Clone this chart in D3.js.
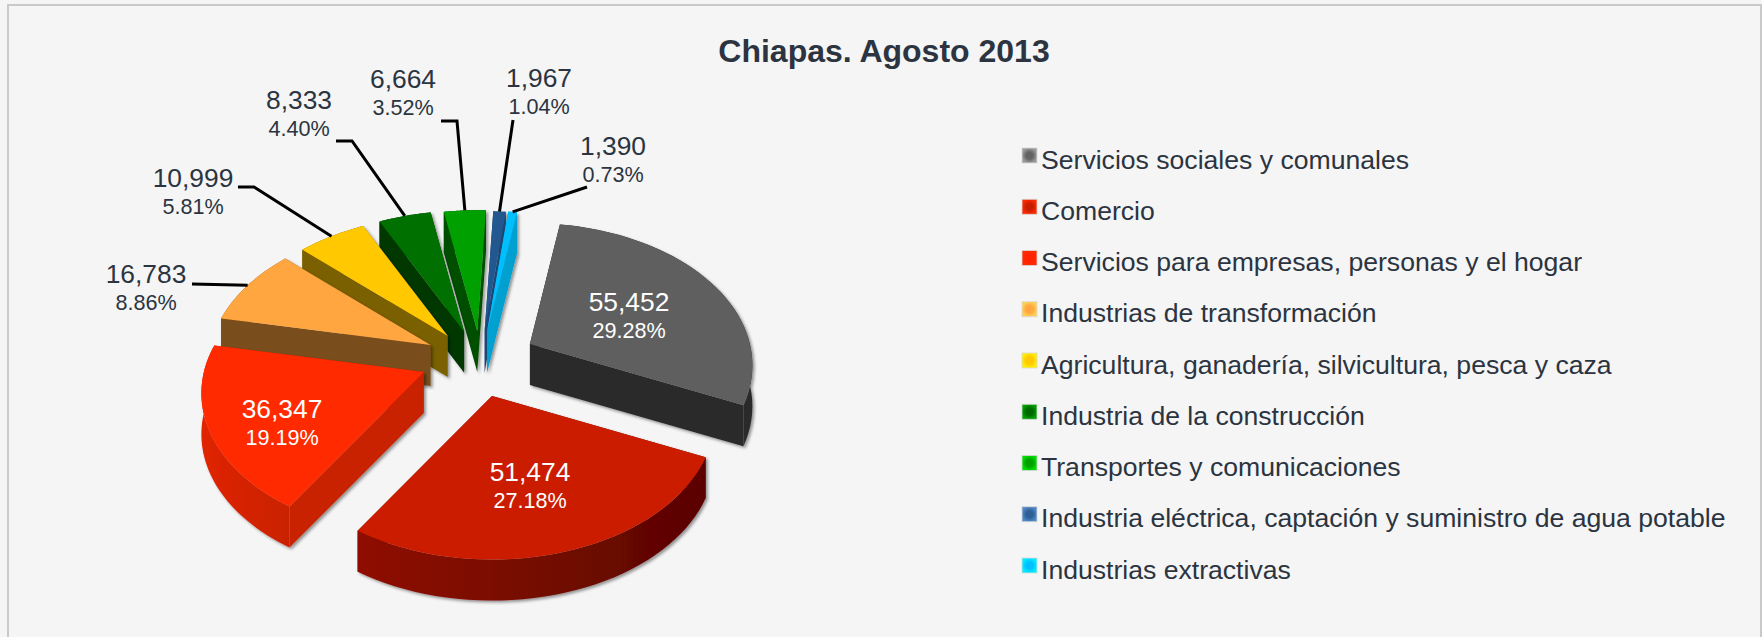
<!DOCTYPE html>
<html>
<head>
<meta charset="utf-8">
<script src="https://cdn.jsdelivr.net/npm/d3@7"></script>
<style>
  html, body { margin: 0; padding: 0; background: #f5f5f5; overflow: hidden; }
  text { font-family: "Liberation Sans", Arial, sans-serif; fill: #2b3440; }
</style>
</head>
<body>
<div id="grafico"></div>
<script>
const titulo = 'Chiapas. Agosto 2013'

const sectores = [
  'Servicios sociales y comunales',
  'Comercio',
  'Servicios para empresas, personas y el hogar',
  'Industrias de transformación',
  'Agricultura, ganadería, silvicultura, pesca y caza',
  'Industria de la construcción',
  'Transportes y comunicaciones',
  'Industria eléctrica, captación y suministro de agua potable',
  'Industrias extractivas'
]
const empleos = [55452, 51474, 36347, 16783, 10999, 8333, 6664, 1967, 1390]

const colorCara = ['#5e5e5e', '#cc1f00', '#ff2a00', '#ffa640', '#ffc800', '#007000', '#00a000', '#24598f', '#00bfff']
const colorPared = ['#292929', '#6e0800', '#c92000', '#7a4e1a', '#7a6000', '#003800', '#005000', '#1a4675', '#00a0d0']
const colorBorde = ['#2a2a2a', '#8f1000', '#e02500', '#7a4e1a', '#7a6000', '#003800', '#005000', '#1a4675', '#00a0d0']
const colorBordeFin = ['#2a2a2a', '#5a0400', '#c92000', '#7a4e1a', '#7a6000', '#003800', '#005000', '#1a4675', '#00a0d0']
const leyendaCentro = ['#636363', '#c81e00', '#ff2200', '#ffa640', '#ffc800', '#006a00', '#00a000', '#2f5f95', '#00c0ff']
const leyendaBorde = ['#9a9a9a', '#ff2a00', '#ff2a00', '#ffd050', '#ffee00', '#00a000', '#00dd00', '#4f88c8', '#00eeff']

// donde va cada etiqueta: [x, linea base] y el codo de la guia
const etiquetas = [
  { x: 629, y: 311, claro: true },
  { x: 530, y: 481, claro: true },
  { x: 282, y: 418, claro: true },
  { x: 146, y: 283, guia: [[192, 284]] },
  { x: 193, y: 187, guia: [[238, 187], [254, 187]] },
  { x: 299, y: 109, guia: [[336, 141], [352, 141]] },
  { x: 403, y: 88, guia: [[441, 121], [457, 121]] },
  { x: 539, y: 87, guia: [[513, 120]] },
  { x: 613, y: 155, guia: [[587, 187]] }
]

// correccion fina de la separacion de cada rebanada
const ajuste = [[1, -2.4], [-2.6, 1], [-1, -4], [4, -2], [4, 1], [4, 1.5], [3, 2.5], [2, 3.5], [1.3, 3]]

const width = 1762
const height = 637
const total = d3.sum(empleos)

// proyeccion del disco con un poco de perspectiva
const radioX = 220
const radioY = 139
const persp = 0.15
const grosor = 41
const centro = { x: 478, y: 362.5 }
const separa = { x: 57.8, y: 34 }
const inicio = 9 * Math.PI / 180

const proyecta = (ang, r) => {
  const u = Math.sin(ang) * r
  const v = -Math.cos(ang) * r
  const p = 1 / (1 - persp * v)
  return [radioX * u * p, radioY * v * p]
}

const svg = d3.select('#grafico').append('svg')
              .attr('width', width)
              .attr('height', height)
              .style('display', 'block')

const defs = svg.append('defs')
const sombra = defs.append('filter')
                   .attr('id', 'sombra')
                   .attr('x', '-10%').attr('y', '-10%')
                   .attr('width', '125%').attr('height', '125%')
sombra.append('feDropShadow')
      .attr('dx', 2).attr('dy', 2)
      .attr('stdDeviation', 1.6)
      .attr('flood-color', '#000')
      .attr('flood-opacity', 0.4)

// marco
svg.append('path')
   .attr('d', `M8 ${height} V5 H1761 V${height}`)
   .attr('fill', 'none')
   .attr('stroke', '#c9c9c9')
   .attr('stroke-width', 2)

svg.append('text')
   .attr('x', 884)
   .attr('y', 62)
   .attr('text-anchor', 'middle')
   .attr('font-weight', 'bold')
   .attr('font-size', 32)
   .text(titulo)

const pie = d3.pie()
              .sort(null)
              .startAngle(inicio)
              .endAngle(inicio + 2 * Math.PI)
const linea = d3.line()

const rebanadas = pie(empleos).map(d => {
  const medio = (d.startAngle + d.endAngle) / 2
  const puntos = d3.range(0, 41).map(i => d.startAngle + (d.endAngle - d.startAngle) * i / 40)
  return {
    ...d,
    medio,
    puntos,
    dx: centro.x + separa.x * Math.sin(medio) + ajuste[d.index][0],
    dy: centro.y - separa.y * Math.cos(medio) + ajuste[d.index][1],
    fondo: -Math.cos(medio)
  }
})

// gradientes del borde curvo
rebanadas.forEach(d => {
  const g = defs.append('linearGradient')
                .attr('id', `borde${d.index}`)
                .attr('x1', 0).attr('x2', 1).attr('y1', 0).attr('y2', 0)
  g.append('stop').attr('offset', '0%').attr('stop-color', colorBorde[d.index])
  g.append('stop').attr('offset', '100%').attr('stop-color', colorBordeFin[d.index])
})

const orden = rebanadas.slice().sort((a, b) => d3.ascending(a.fondo, b.fondo))

const grupos = svg.selectAll('g.rebanada')
                  .data(orden)
                  .enter()
                  .append('g')
                  .attr('class', 'rebanada')
                  .attr('transform', d => `translate(${d.dx}, ${d.dy})`)
                  .attr('filter', 'url(#sombra)')

// paredes planas (del centro al arco)
grupos.append('path')
      .attr('d', d => {
        const a = proyecta(d.startAngle, 1)
        const b = proyecta(d.endAngle, 1)
        return linea([a, [0, 0], [0, grosor], [a[0], a[1] + grosor]]) + 'Z' +
               linea([b, [0, 0], [0, grosor], [b[0], b[1] + grosor]]) + 'Z'
      })
      .attr('fill', d => colorPared[d.index])

// pared curva
grupos.append('path')
      .attr('d', d => {
        const arriba = d.puntos.map(a => proyecta(a, 1))
        const abajo = arriba.map(p => [p[0], p[1] + grosor]).reverse()
        return linea(arriba.concat(abajo)) + 'Z'
      })
      .attr('fill', d => `url(#borde${d.index})`)

// cara superior
grupos.append('path')
      .attr('d', d => linea([[0, 0]].concat(d.puntos.map(a => proyecta(a, 1)))) + 'Z')
      .attr('fill', d => colorCara[d.index])

// guias de las etiquetas de afuera
svg.selectAll('path.guia')
   .data(rebanadas.filter(d => etiquetas[d.index].guia))
   .enter()
   .append('path')
   .attr('class', 'guia')
   .attr('d', d => {
     const p = proyecta(d.medio, 1)
     return linea(etiquetas[d.index].guia.concat([[d.dx + p[0], d.dy + p[1]]]))
   })
   .attr('fill', 'none')
   .attr('stroke', '#000')
   .attr('stroke-width', 3)

const fmtValor = d3.format(',')
const fmtPct = d3.format('.2%')

const textos = svg.selectAll('g.etiqueta')
                  .data(rebanadas)
                  .enter()
                  .append('g')
                  .attr('class', 'etiqueta')
                  .attr('text-anchor', 'middle')

textos.append('text')
      .attr('x', d => etiquetas[d.index].x)
      .attr('y', d => etiquetas[d.index].y)
      .attr('font-size', 26.4)
      .style('fill', d => etiquetas[d.index].claro ? '#fff' : null)
      .text(d => fmtValor(d.value))

textos.append('text')
      .attr('x', d => etiquetas[d.index].x)
      .attr('y', d => etiquetas[d.index].y + 27)
      .attr('font-size', 21.6)
      .style('fill', d => etiquetas[d.index].claro ? '#fff' : null)
      .text(d => fmtPct(d.value / total))

// leyenda
const filaY = d3.scalePoint()
                .domain(sectores)
                .range([156, 566])

sectores.forEach((s, i) => {
  const g = defs.append('radialGradient').attr('id', `ley${i}`)
  g.append('stop').attr('offset', '45%').attr('stop-color', leyendaCentro[i])
  g.append('stop').attr('offset', '100%').attr('stop-color', leyendaBorde[i])
})

const leyenda = svg.selectAll('g.leyenda')
                   .data(sectores)
                   .enter()
                   .append('g')
                   .attr('class', 'leyenda')
                   .attr('transform', d => `translate(1022, ${filaY(d)})`)

leyenda.append('rect')
       .attr('x', 0)
       .attr('y', -8)
       .attr('width', 15)
       .attr('height', 15)
       .attr('fill', (d, i) => `url(#ley${i})`)
       .attr('stroke', '#d8d8d8')
       .attr('stroke-width', 0.8)

leyenda.append('text')
       .attr('x', 19)
       .attr('y', 12.5)
       .attr('font-size', 26.6)
       .text(d => d)
</script>
</body>
</html>
